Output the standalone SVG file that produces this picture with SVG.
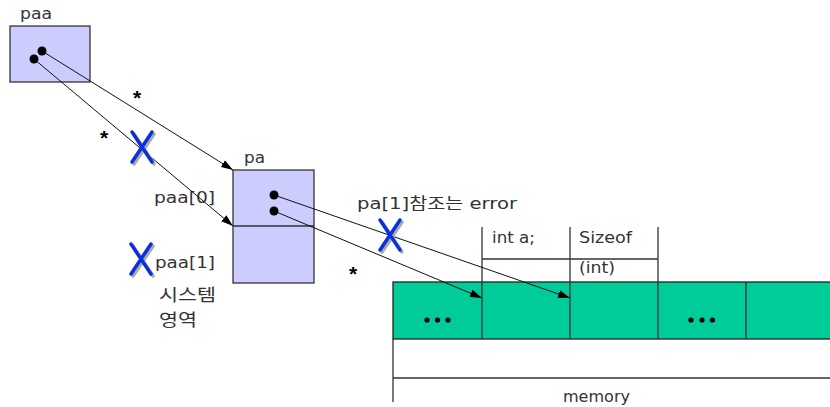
<svg xmlns="http://www.w3.org/2000/svg" width="830" height="407" viewBox="0 0 830 407">
<style>
text{font-family:"DejaVu Sans","Noto Sans CJK KR",sans-serif;fill:#333;font-size:16px}
.ko{font-family:"Noto Sans CJK KR",sans-serif;font-size:17px}
.box{fill:#ccccff;stroke:#333;stroke-width:1.3}
.mem{fill:#00cc99;stroke:#222;stroke-width:1.3}
.ln{stroke:#333;stroke-width:1.3;fill:none}
.arr{stroke:#111;stroke-width:1;fill:none;marker-end:url(#ah)}
.dot{fill:#000}
.xs{stroke:#aaa;stroke-width:3.5;stroke-linecap:round;fill:none}
.xb{stroke:#0a2fe0;stroke-width:3.5;stroke-linecap:round;fill:none}
.ast{font-family:"Liberation Sans",sans-serif;font-size:21px;font-weight:bold;fill:#000;text-anchor:middle}
</style>
<defs>
<marker id="ah" viewBox="0 0 12 8" refX="12" refY="4" markerWidth="12" markerHeight="8" markerUnits="userSpaceOnUse" orient="auto">
<path d="M0,0 L12,4 L0,8 Z" fill="#000"/>
</marker>
<g id="xmark">
<path class="xs" d="M-8,-13 L12,17 M12,-13 L-8,17"/>
<path class="xb" d="M-10,-15 L10,15 M10,-15 L-10,15"/>
</g>
</defs>
<rect width="830" height="407" fill="#fff"/>

<g id="memory">
<rect class="mem" x="393" y="282" width="440" height="57"/>
<path class="ln" d="M482,282 V339 M570,282 V339 M658,282 V339 M746,282 V339"/>
<path class="ln" d="M393,339 V402 M393,378 H830"/>
<circle class="dot" cx="427" cy="320" r="2.6"/><circle class="dot" cx="437.5" cy="320" r="2.6"/><circle class="dot" cx="448" cy="320" r="2.6"/>
<circle class="dot" cx="691" cy="320" r="2.6"/><circle class="dot" cx="702" cy="320" r="2.6"/><circle class="dot" cx="712.5" cy="320" r="2.6"/>
<text x="563" y="402" textLength="67" lengthAdjust="spacingAndGlyphs">memory</text>
</g>

<g id="int-table">
<path class="ln" d="M482,227 V282 M570,227 V282 M658,227 V282 M482,259 H658"/>
<text x="492" y="243" textLength="43" lengthAdjust="spacingAndGlyphs">int a;</text>
<text x="579" y="243" textLength="53" lengthAdjust="spacingAndGlyphs">Sizeof</text>
<text x="579" y="273" textLength="36" lengthAdjust="spacingAndGlyphs">(int)</text>
</g>

<g id="paa">
<rect class="box" x="10" y="26" width="80" height="56"/>
<text x="20" y="19" textLength="32" lengthAdjust="spacingAndGlyphs">paa</text>
</g>

<g id="pa">
<rect class="box" x="233" y="170" width="81" height="113"/>
<line class="ln" x1="233" y1="226" x2="314" y2="226"/>
<text x="244" y="163" textLength="21" lengthAdjust="spacingAndGlyphs">pa</text>
</g>

<g id="labels">
<text x="154" y="203" textLength="61" lengthAdjust="spacingAndGlyphs">paa[0]</text>
<text x="155" y="268" textLength="60" lengthAdjust="spacingAndGlyphs">paa[1]</text>
<text class="ko" x="159" y="301" textLength="57" lengthAdjust="spacingAndGlyphs">시스템</text>
<text class="ko" x="159" y="326" textLength="38" lengthAdjust="spacingAndGlyphs">영역</text>
<text x="357" y="209" textLength="160" lengthAdjust="spacingAndGlyphs">pa[1]참조는 error</text>
<text class="ast" x="137" y="105">*</text>
<text class="ast" x="104" y="145">*</text>
<text class="ast" x="353" y="281">*</text>
</g>

<g id="connectors">
<line class="arr" x1="42" y1="51" x2="233" y2="170"/>
<line class="arr" x1="34" y1="59" x2="233" y2="226"/>
<line class="arr" x1="274" y1="195" x2="570" y2="298"/>
<line class="arr" x1="274" y1="211" x2="482" y2="298"/>
<circle class="dot" cx="42" cy="51" r="4.5"/>
<circle class="dot" cx="34" cy="59" r="4.5"/>
<circle class="dot" cx="274" cy="195" r="4.5"/>
<circle class="dot" cx="274" cy="211" r="4.5"/>
</g>

<g id="crosses">
<use href="#xmark" x="142" y="147"/>
<use href="#xmark" x="141" y="259"/>
<use href="#xmark" x="390" y="235"/>
</g>
</svg>
